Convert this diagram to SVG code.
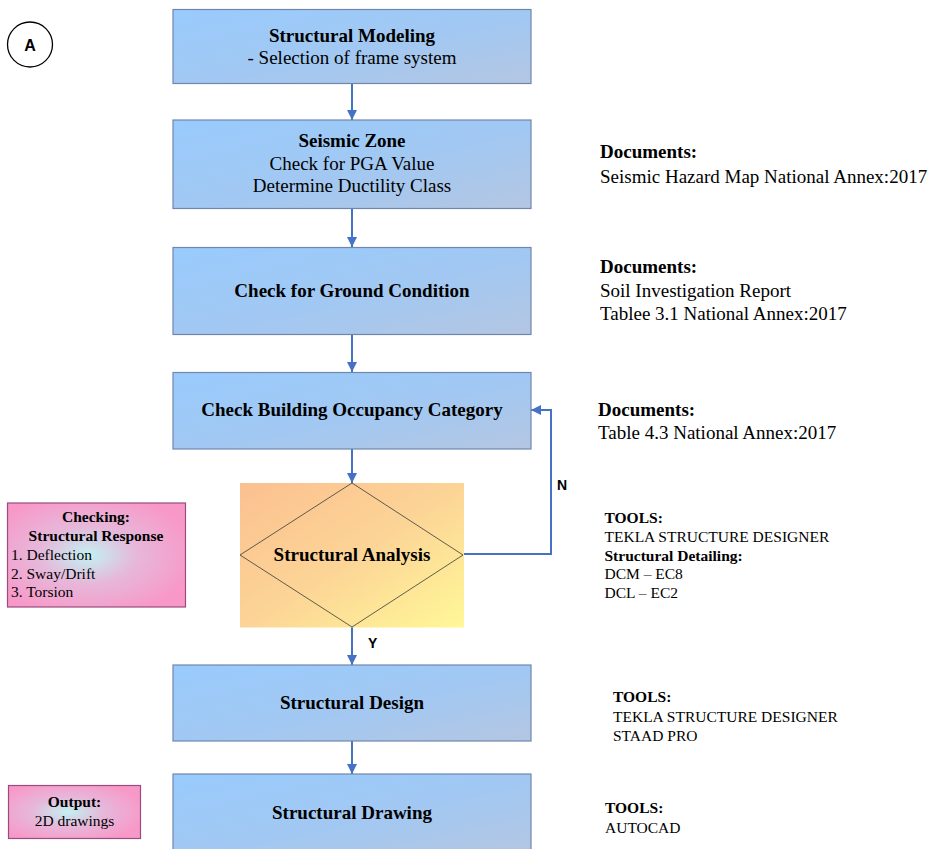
<svg xmlns="http://www.w3.org/2000/svg" width="936" height="849" viewBox="0 0 936 849">
  <style>
    .box { stroke: #6F86AE; stroke-width: 1.2; fill: url(#blueFill); }
    .note { stroke: #9A4C7C; stroke-width: 1.2; fill: url(#pinkFill); }
    .conn { fill: none; stroke: #4472C4; stroke-width: 2; }
    .t { font-family: "Liberation Serif", "Times New Roman", serif; fill: #000; }
    .b { font-weight: bold; }
    .big { font-size: 19px; }
    .small { font-size: 15.5px; }
    .lab { font-family: "Liberation Sans", Arial, sans-serif; font-weight: bold; font-size: 14px; fill: #000; }
  </style>
  <defs>
    <linearGradient id="blueFill" x1="0" y1="0" x2="1" y2="1">
      <stop offset="0" stop-color="#99CBFD"/>
      <stop offset="0.55" stop-color="#A2C8F2"/>
      <stop offset="1" stop-color="#B4C6E2"/>
    </linearGradient>
    <linearGradient id="orangeFill" x1="0" y1="0" x2="1" y2="1">
      <stop offset="0" stop-color="#FBC090"/>
      <stop offset="0.5" stop-color="#FCD496"/>
      <stop offset="1" stop-color="#FFF898"/>
    </linearGradient>
    <radialGradient id="pinkFill" cx="0.45" cy="0.5" r="0.6">
      <stop offset="0" stop-color="#C2F2F2"/>
      <stop offset="0.45" stop-color="#E6B8DA"/>
      <stop offset="1" stop-color="#F898C8"/>
    </radialGradient>
    <marker id="arrow" markerUnits="userSpaceOnUse" markerWidth="11" markerHeight="11" refX="10" refY="5" orient="auto">
      <path d="M0,0 L10,5 L0,10 Z" fill="#4472C4"/>
    </marker>
  </defs>

  <rect width="936" height="849" fill="#FFFFFF"/>

  <!-- section marker -->
  <g id="marker-a">
    <circle cx="30" cy="44.5" r="22.5" fill="#FFFFFF" stroke="#000" stroke-width="1.3"/>
    <text x="30" y="50.5" text-anchor="middle" font-family="Liberation Sans, Arial, sans-serif" font-weight="bold" font-size="16">A</text>
  </g>

  <!-- connectors -->
  <g id="connectors">
    <line class="conn" x1="352" y1="83" x2="352" y2="120" marker-end="url(#arrow)"/>
    <line class="conn" x1="352" y1="208" x2="352" y2="247" marker-end="url(#arrow)"/>
    <line class="conn" x1="352" y1="334" x2="352" y2="372" marker-end="url(#arrow)"/>
    <line class="conn" x1="352" y1="449" x2="352" y2="483" marker-end="url(#arrow)"/>
    <line class="conn" x1="352" y1="627" x2="352" y2="665" marker-end="url(#arrow)"/>
    <line class="conn" x1="352" y1="741" x2="352" y2="774" marker-end="url(#arrow)"/>
    <polyline class="conn" points="463,554 551,554 551,410 531,410" marker-end="url(#arrow)"/>
    <text class="lab" x="557" y="490">N</text>
    <text class="lab" x="368" y="648">Y</text>
  </g>

  <!-- process steps -->
  <g id="structural-modeling">
    <rect class="box" x="173" y="9.5" width="358" height="74"/>
    <text class="t b big" x="352" y="42" text-anchor="middle">Structural Modeling</text>
    <text class="t big" x="352" y="64" text-anchor="middle">- Selection of frame system</text>
  </g>

  <g id="seismic-zone">
    <rect class="box" x="173" y="120" width="358" height="88.5"/>
    <text class="t b big" x="352" y="147" text-anchor="middle">Seismic Zone</text>
    <text class="t big" x="352" y="169.5" text-anchor="middle">Check for PGA Value</text>
    <text class="t big" x="352" y="192" text-anchor="middle">Determine Ductility Class</text>
  </g>

  <g id="ground-condition">
    <rect class="box" x="173" y="247.5" width="358" height="87"/>
    <text class="t b big" x="352" y="297" text-anchor="middle">Check for Ground Condition</text>
  </g>

  <g id="occupancy-category">
    <rect class="box" x="173" y="372.5" width="358" height="76.5"/>
    <text class="t b big" x="352" y="416" text-anchor="middle">Check Building Occupancy Category</text>
  </g>

  <g id="structural-analysis">
    <rect x="240" y="483" width="224" height="144.5" fill="url(#orangeFill)"/>
    <polygon points="352,483 463,555 352,627 240,555" fill="none" stroke="#3A3A3A" stroke-width="0.8"/>
    <text class="t b big" x="352" y="561" text-anchor="middle">Structural Analysis</text>
  </g>

  <g id="structural-design">
    <rect class="box" x="173" y="665" width="358" height="76"/>
    <text class="t b big" x="352" y="709" text-anchor="middle">Structural Design</text>
  </g>

  <g id="structural-drawing">
    <rect class="box" x="173" y="774" width="358" height="80"/>
    <text class="t b big" x="352" y="819" text-anchor="middle">Structural Drawing</text>
  </g>

  <!-- side notes -->
  <g id="checking-note">
    <rect class="note" x="7.5" y="503" width="178" height="104"/>
    <text class="t b small" x="96" y="522" text-anchor="middle">Checking:</text>
    <text class="t b small" x="96" y="541" text-anchor="middle">Structural Response</text>
    <text class="t small" x="11" y="560">1. Deflection</text>
    <text class="t small" x="11" y="578.5">2. Sway/Drift</text>
    <text class="t small" x="11" y="597">3. Torsion</text>
  </g>

  <g id="output-note">
    <rect class="note" x="8.5" y="785.5" width="132" height="53"/>
    <text class="t b small" x="74.5" y="807" text-anchor="middle">Output:</text>
    <text class="t small" x="74.5" y="825.5" text-anchor="middle">2D drawings</text>
  </g>

  <g id="docs-seismic">
    <text class="t b big" x="600" y="158">Documents:</text>
    <text class="t big" x="600" y="182.5">Seismic Hazard Map National Annex:2017</text>
  </g>

  <g id="docs-ground">
    <text class="t b big" x="600" y="273">Documents:</text>
    <text class="t big" x="600" y="297">Soil Investigation Report</text>
    <text class="t big" x="600" y="320">Tablee 3.1 National Annex:2017</text>
  </g>

  <g id="docs-occupancy">
    <text class="t b big" x="598" y="416">Documents:</text>
    <text class="t big" x="598" y="438.5">Table 4.3 National Annex:2017</text>
  </g>

  <g id="tools-analysis">
    <text class="t b small" x="604.5" y="523">TOOLS:</text>
    <text class="t small" x="604.5" y="541.5">TEKLA STRUCTURE DESIGNER</text>
    <text class="t b small" x="604.5" y="560.5">Structural Detailing:</text>
    <text class="t small" x="604.5" y="579">DCM – EC8</text>
    <text class="t small" x="604.5" y="597.5">DCL – EC2</text>
  </g>

  <g id="tools-design">
    <text class="t b small" x="613" y="702">TOOLS:</text>
    <text class="t small" x="613" y="721.5">TEKLA STRUCTURE DESIGNER</text>
    <text class="t small" x="613" y="741">STAAD PRO</text>
  </g>

  <g id="tools-drawing">
    <text class="t b small" x="605" y="813">TOOLS:</text>
    <text class="t small" x="605" y="833">AUTOCAD</text>
  </g>
</svg>
